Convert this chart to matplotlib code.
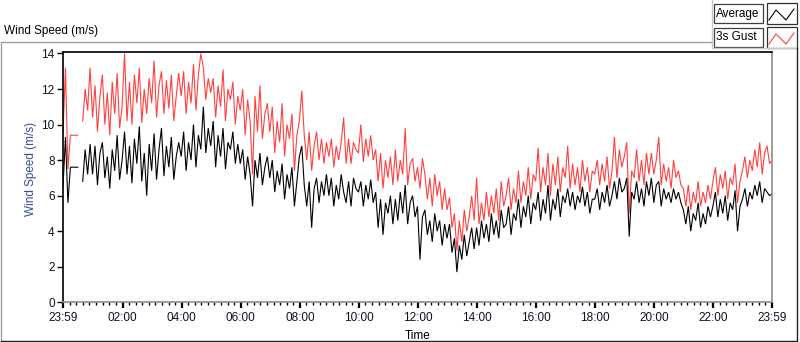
import numpy as np
import matplotlib
matplotlib.use("Agg")
import matplotlib.pyplot as plt
from matplotlib.lines import Line2D
from matplotlib.patches import Rectangle

nan = float("nan")
sample_interval_min = 5  # one value every 5 minutes, starting at 23:59

# Average wind speed (m/s), one row per hour
avg_speed = [
    6.5, 9.3, 5.6, 7.6, 7.6, 7.6, 7.6, nan, 6.8, 8.6, 7.2, 8.9,
    7.2, 8.8, 6.6, 8.4, 9.0, 7.0, 8.2, 6.4, 8.6, 7.4, 9.4, 6.9,
    8.0, 9.6, 7.2, 8.8, 6.7, 9.2, 7.8, 9.9, 6.8, 8.4, 6.0, 8.9,
    7.4, 9.5, 6.9, 8.6, 9.8, 7.1, 8.8, 7.6, 9.3, 6.9, 8.2, 9.0,
    8.2, 9.6, 7.4, 9.0, 8.0, 10.0, 7.6, 9.4, 8.6, 11.0, 8.4, 9.8,
    8.8, 10.2, 7.6, 9.4, 8.2, 9.8, 7.5, 9.0, 8.6, 9.6, 7.8, 8.9,
    7.8, 8.6, 6.9, 8.2, 7.2, 5.4, 8.0, 7.0, 8.4, 6.6, 7.6, 8.2,
    7.0, 8.0, 6.2, 7.4, 6.6, 7.8, 5.8, 7.2, 6.4, 7.6, 5.4, 6.8,
    8.2, 8.8, 6.6, 5.4, 6.8, 4.2, 6.4, 7.0, 5.6, 6.8, 6.0, 7.2,
    6.0, 7.0, 5.4, 6.6, 5.8, 7.2, 6.2, 5.6, 6.8, 5.4, 7.0, 6.4,
    6.2, 6.8, 5.4, 6.6, 5.8, 6.9, 5.6, 6.2, 4.2, 5.8, 3.8, 5.6,
    5.0, 6.0, 4.4, 5.8, 4.6, 6.2, 5.0, 6.6, 4.4, 5.6, 6.0, 4.8,
    5.4, 2.4, 4.8, 5.2, 3.8, 4.6, 3.4, 5.0, 4.0, 4.6, 3.2, 4.4,
    3.6, 4.4, 2.8, 3.6, 1.7, 3.2, 2.4, 3.8, 2.6, 3.4, 4.2, 3.0,
    4.2, 3.2, 4.6, 3.6, 4.4, 3.4, 5.0, 3.8, 4.6, 3.6, 5.2, 4.2,
    4.4, 5.4, 3.8, 5.0, 4.6, 5.8, 4.2, 5.4, 4.8, 6.0, 4.4, 5.6,
    5.2, 6.2, 4.6, 5.8, 5.0, 6.6, 4.6, 5.8, 5.2, 6.4, 4.8, 6.0,
    5.6, 6.4, 5.4, 6.2, 5.2, 6.0, 5.6, 6.5, 5.4, 6.2, 5.0, 5.8,
    5.8, 6.4, 5.2, 6.2, 5.6, 6.6, 5.4, 6.0, 6.8, 5.8, 7.0, 6.2,
    6.4, 7.0, 3.7, 6.2, 5.8, 6.8, 5.6, 6.4, 5.4, 6.8, 6.0, 7.0,
    5.6, 6.6, 6.8, 5.4, 6.4, 5.8, 6.2, 5.6, 6.4, 5.8, 6.2, 5.6,
    5.2, 4.4, 5.4, 4.0, 5.0, 4.6, 5.6, 4.2, 5.0, 4.4, 5.4, 4.8,
    5.4, 6.2, 4.8, 5.8, 5.0, 6.0, 4.6, 5.6, 5.2, 6.3, 4.0, 5.4,
    5.8, 6.4, 5.4, 6.2, 5.8, 6.6, 6.0, 6.8, 5.6, 6.4, 6.2, 6.0,
    6.1,
]

# 3-second gust (m/s), one row per hour
gust_speed = [
    9.5, 13.2, 7.5, 9.4, 9.4, 9.4, 9.4, nan, 10.2, 12.0, 10.8, 13.2,
    10.4, 12.2, 9.6, 11.6, 12.8, 10.0, 11.8, 9.4, 12.4, 10.6, 12.9, 9.8,
    11.0, 14.0, 10.2, 12.4, 10.0, 12.8, 11.2, 13.2, 10.1, 12.0, 10.6, 12.6,
    11.2, 13.6, 10.4, 12.2, 13.0, 10.6, 12.5, 10.9, 12.8, 10.2, 11.6, 12.9,
    11.6, 13.0, 10.6, 12.4, 11.2, 13.4, 10.8, 12.8, 14.0, 13.2, 11.4, 12.6,
    11.8, 12.6, 10.4, 12.2, 11.0, 13.1, 10.2, 12.0, 11.4, 12.4, 10.0, 11.6,
    10.8, 12.0, 9.4, 11.4, 10.2, 7.2, 11.6, 9.6, 12.2, 9.2, 10.6, 11.2,
    9.6, 11.0, 8.4, 10.2, 9.0, 11.2, 8.2, 10.0, 9.2, 10.6, 7.4, 9.4,
    10.2, 11.9, 9.4, 8.0, 9.6, 7.4, 8.8, 9.6, 8.0, 9.2, 7.8, 9.0,
    8.2, 9.2, 7.6, 8.8, 8.0, 9.0, 10.4, 7.8, 9.2, 7.8, 9.0, 8.6,
    8.4, 10.0, 7.9, 9.2, 8.2, 9.4, 8.0, 8.6, 6.8, 8.4, 6.4, 8.0,
    7.0, 8.2, 6.6, 8.6, 6.8, 8.0, 7.2, 9.8, 6.6, 7.8, 8.1, 6.8,
    7.6, 6.4, 8.1, 7.2, 5.8, 7.0, 5.4, 7.2, 6.0, 6.8, 5.2, 6.4,
    5.2, 5.9, 4.2, 5.0, 2.9, 4.6, 3.4, 5.2, 4.0, 4.8, 6.0, 4.6,
    7.0, 4.4, 5.6, 4.6, 6.2, 4.8, 6.0, 5.0, 6.4, 4.6, 6.8, 5.4,
    6.0, 7.0, 5.2, 6.4, 5.6, 7.4, 5.6, 6.8, 6.0, 7.6, 5.8, 7.2,
    6.8, 8.7, 6.2, 7.6, 6.6, 8.4, 6.0, 7.8, 6.6, 8.2, 6.2, 7.6,
    7.0, 8.8, 6.4, 7.8, 6.6, 7.6, 6.2, 8.0, 6.8, 7.6, 6.2, 7.4,
    7.2, 8.0, 6.6, 7.8, 6.8, 8.2, 6.4, 7.4, 9.3, 7.0, 8.6, 7.6,
    8.2, 9.0, 5.0, 7.4, 7.0, 8.6, 6.8, 8.0, 6.6, 8.4, 7.2, 8.4,
    7.2, 8.0, 9.3, 6.6, 7.8, 6.8, 7.6, 6.4, 8.0, 7.0, 7.4, 6.6,
    6.4, 5.4, 6.6, 5.2, 6.2, 5.6, 6.8, 5.4, 6.2, 5.6, 6.6, 5.8,
    6.8, 7.6, 6.0, 7.2, 6.4, 7.4, 5.8, 7.0, 6.6, 7.8, 5.6, 6.8,
    7.4, 8.2, 7.0, 8.0, 7.4, 8.6, 7.6, 9.0, 7.2, 8.4, 8.8, 7.8,
    8.0,
]

time_tick_labels = ["23:59", "02:00", "04:00", "06:00", "08:00", "10:00", "12:00",
                    "14:00", "16:00", "18:00", "20:00", "22:00", "23:59"]
time_tick_minutes = [0, 121, 241, 361, 481, 601, 721, 841, 961, 1081, 1201, 1321, 1440]
y_ticks = [0, 2, 4, 6, 8, 10, 12, 14]
series_names = ["Average", "3s Gust"]

W, H = 800, 342
FONT = "Liberation Sans"
plt.rcParams["font.family"] = [FONT, "DejaVu Sans"]
FS = 8.5

fig = plt.figure(figsize=(W / 100, H / 100), dpi=100)
fig.patch.set_facecolor("white")

def fx(x):
    return x / W

def fy(y):
    return 1 - y / H

ax_l, ax_r, ax_t, ax_b = 63, 772, 51.7, 302.3
ax = fig.add_axes([fx(ax_l), fy(ax_b), (ax_r - ax_l) / W, (ax_b - ax_t) / H])

t = np.arange(len(avg_speed)) * sample_interval_min
red = "#ff4040"
ax.plot(t, gust_speed, color=red, lw=0.8, solid_joinstyle="miter")
ax.plot(t, avg_speed, color="black", lw=0.8, solid_joinstyle="miter")

ax.set_xlim(0, 1440)
ax.set_ylim(0, 14.1)

ax.set_xticks(time_tick_minutes)
ax.set_xticklabels(time_tick_labels)
minor = []
for a, b in zip(time_tick_minutes[:-1], time_tick_minutes[1:]):
    minor += [a + (b - a) * j / 9 for j in range(1, 9)]
ax.set_xticks(minor, minor=True)
ax.set_yticks(y_ticks)

tick_col = "#101028"
ax.tick_params(axis="x", which="major", direction="out", length=4, width=1.6,
               labelsize=FS, pad=3, colors="black", labelcolor=tick_col)
ax.tick_params(axis="x", which="minor", direction="out", length=2.5, width=1.0, colors="black")
ax.tick_params(axis="y", which="major", direction="out", length=4, width=1.0,
               labelsize=FS, pad=2, colors="black", labelcolor=tick_col)

for side in ["left", "top"]:
    ax.spines[side].set_color("black")
    ax.spines[side].set_linewidth(1.2)
for side in ["right", "bottom"]:
    ax.spines[side].set_color("#8c8c8c")
    ax.spines[side].set_linewidth(1.2)

ax.set_xlabel("Time", fontsize=FS, labelpad=4)
fig.text(fx(31), fy(169), "Wind Speed (m/s)", rotation=90, ha="center", va="center",
         fontsize=FS, color="#2f4f9a")
fig.text(fx(4), fy(31), "Wind Speed (m/s)", ha="left", va="center", fontsize=FS, color="black")

# outer panel frame
def fline(xs, ys, color, lw=1.0):
    fig.add_artist(Line2D([fx(x) for x in xs], [fy(y) for y in ys], color=color, lw=lw,
                          transform=fig.transFigure))

fline([1, 1, 712], [341, 41.5, 41.5], "#a0a0a0")
fline([712, 712, 797], [0, 48, 48], "#c8c8c8")
fline([797, 797, 1], [48, 341, 341], "#202020")

# legend
leg_rows = [(4, "black"), (28, red)]
for (y0, col), name in zip(leg_rows, series_names):
    fig.add_artist(Rectangle((fx(713.5), fy(y0 + 19)), 49 / W, 19 / H, transform=fig.transFigure,
                             facecolor="white", edgecolor="#404040", lw=0.9))
    fig.text(fx(716), fy(y0 + 9.5), name, ha="left", va="center", fontsize=FS, color="black")
    fig.add_artist(Rectangle((fx(766.5), fy(y0 + 20)), 30 / W, 21 / H, transform=fig.transFigure,
                             facecolor="white", edgecolor="#303030", lw=0.9))
    fline([769, 776, 786, 794], [y0 + 16, y0 + 6, y0 + 16, y0 + 5], col, lw=0.8)

fig.savefig("out.png", dpi=100, facecolor="white")
